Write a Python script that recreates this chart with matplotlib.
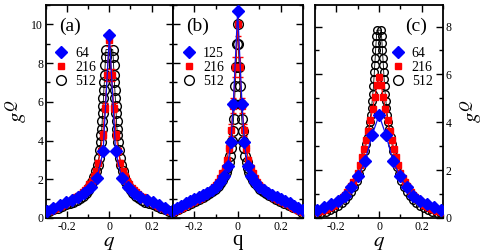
import numpy as np
import matplotlib
matplotlib.use("Agg")
import matplotlib.pyplot as plt
from matplotlib.lines import Line2D

plt.rcParams['font.family'] = ['Liberation Serif', 'DejaVu Serif']
plt.rcParams['mathtext.fontset'] = 'stix'

# ---- panel (a) : half curves, q >= 0 (data are symmetric in q) ----
a_blue_q = [0, 0.0295, 0.059, 0.0885, 0.118, 0.1475, 0.177, 0.2065, 0.236, 0.2655, 0.295]
a_blue_g = [9.45, 3.45, 2.05, 1.6, 1.3, 1.1, 0.93, 0.8, 0.66, 0.52, 0.38]

a_red_q = [0, 0.0105, 0.021, 0.0315, 0.042, 0.0525, 0.063, 0.0735, 0.084, 0.0945,
           0.105, 0.1155, 0.126, 0.1365, 0.147, 0.1575, 0.168, 0.1785, 0.189, 0.1995,
           0.21, 0.2205, 0.231, 0.2415, 0.252, 0.2625, 0.273, 0.2835, 0.294]
a_red_g = [9.2, 7.4, 5.7, 4.3, 3.45, 2.85, 2.45, 2.15, 1.92, 1.73,
           1.57, 1.44, 1.33, 1.23, 1.14, 1.06, 0.99, 0.92, 0.86, 0.8,
           0.74, 0.68, 0.63, 0.58, 0.53, 0.48, 0.43, 0.38, 0.34]
a_red_e = [0.3, 0.3, 0.25, 0.2, 0.15, 0.12, 0.1, 0.08, 0.07, 0.06,
           0.05, 0.05, 0.04, 0.04, 0.04, 0.03, 0.03, 0.03, 0.03, 0.03,
           0.03, 0.03, 0.02, 0.02, 0.02, 0.02, 0.02, 0.02, 0.02]

a_blk_q = [0.016, 0.018, 0.020, 0.022, 0.024, 0.026, 0.028, 0.030, 0.032, 0.034,
           0.036, 0.038, 0.041, 0.045, 0.050, 0.056, 0.063, 0.071, 0.080, 0.090,
           0.101, 0.113, 0.126, 0.140, 0.155, 0.171, 0.188, 0.206, 0.225, 0.245,
           0.265, 0.285, 0.300]
a_blk_g = [8.7, 8.3, 7.9, 7.4, 7.0, 6.6, 6.2, 5.8, 5.4, 5.0,
           4.6, 4.3, 3.9, 3.5, 3.1, 2.75, 2.42, 2.12, 1.86, 1.64,
           1.45, 1.29, 1.15, 1.02, 0.93, 0.85, 0.78, 0.70, 0.62, 0.54,
           0.46, 0.38, 0.33]

# ---- panel (b) ----
b_blue_q = [0, 0.02, 0.031, 0.046, 0.062, 0.08, 0.1, 0.12, 0.14, 0.16, 0.18, 0.2,
            0.22, 0.24, 0.26, 0.28, 0.3]
b_blue_g = [10.7, 5.9, 3.9, 2.7, 2.15, 1.85, 1.62, 1.45, 1.31, 1.19, 1.07, 0.96,
            0.86, 0.75, 0.64, 0.52, 0.4]

b_red_q = [0, 0.01, 0.02, 0.03, 0.04, 0.05, 0.06, 0.07, 0.08, 0.09, 0.1,
           0.11, 0.12, 0.13, 0.14, 0.15, 0.16, 0.17, 0.18, 0.19, 0.2,
           0.21, 0.22, 0.23, 0.24, 0.25, 0.26, 0.27, 0.28, 0.29, 0.3]
b_red_g = [10.0, 7.8, 5.8, 4.55, 3.6, 3.0, 2.6, 2.3, 2.07, 1.88, 1.72,
           1.58, 1.46, 1.36, 1.27, 1.19, 1.12, 1.05, 0.99, 0.93, 0.87,
           0.81, 0.76, 0.7, 0.65, 0.59, 0.54, 0.48, 0.43, 0.37, 0.32]
b_red_e = [0.6, 0.5, 0.4, 0.3, 0.2, 0.15, 0.12, 0.1, 0.08, 0.07, 0.06,
           0.05, 0.05, 0.04, 0.04, 0.04, 0.03, 0.03, 0.03, 0.03, 0.03,
           0.03, 0.02, 0.02, 0.02, 0.02, 0.02, 0.02, 0.02, 0.02, 0.02]

b_blk_q = [0.0, 0.003, 0.007, 0.011, 0.015, 0.019, 0.023, 0.027, 0.031, 0.036,
           0.041, 0.047, 0.054, 0.062, 0.071, 0.081, 0.092, 0.104, 0.117, 0.131,
           0.146, 0.162, 0.179, 0.197, 0.216, 0.236, 0.256, 0.277, 0.298]
b_blk_g = [10.0, 9.0, 7.8, 6.8, 5.9, 5.1, 4.5, 4.0, 3.6, 3.2,
           2.9, 2.6, 2.35, 2.15, 1.97, 1.8, 1.65, 1.52, 1.4, 1.28,
           1.17, 1.07, 0.97, 0.87, 0.77, 0.67, 0.56, 0.45, 0.33]

# ---- panel (c) ----
c_blue_q = [0, 0.033, 0.065, 0.097, 0.129, 0.161, 0.193, 0.225, 0.257, 0.289]
c_blue_g = [4.3, 3.45, 2.4, 1.75, 1.3, 0.92, 0.72, 0.57, 0.45, 0.35]

c_red_q = [0, 0.01, 0.02, 0.03, 0.04, 0.05, 0.06, 0.07, 0.08, 0.09, 0.1,
           0.11, 0.12, 0.13, 0.14, 0.15, 0.16, 0.17, 0.18, 0.19, 0.2,
           0.21, 0.22, 0.23, 0.24, 0.25, 0.26, 0.27, 0.28, 0.29, 0.3]
c_red_g = [5.9, 5.55, 5.05, 4.55, 4.1, 3.65, 3.25, 2.9, 2.55, 2.2, 1.9,
           1.68, 1.5, 1.34, 1.2, 1.08, 0.97, 0.87, 0.78, 0.7, 0.62,
           0.56, 0.5, 0.45, 0.41, 0.37, 0.34, 0.31, 0.28, 0.26, 0.24]

c_blk_q = [0.010, 0.012, 0.014, 0.016, 0.018, 0.020, 0.022, 0.024, 0.026, 0.029,
           0.032, 0.035, 0.039, 0.043, 0.048, 0.054, 0.060, 0.067, 0.075, 0.084,
           0.094, 0.105, 0.117, 0.130, 0.144, 0.159, 0.175, 0.192, 0.210, 0.229,
           0.249, 0.270, 0.292]
c_blk_g = [7.85, 7.6, 7.3, 7.0, 6.7, 6.4, 6.1, 5.8, 5.5, 5.2,
           4.9, 4.6, 4.3, 4.0, 3.7, 3.4, 3.1, 2.8, 2.5, 2.15,
           1.85, 1.55, 1.3, 1.08, 0.9, 0.75, 0.62, 0.5, 0.41, 0.33,
           0.26, 0.2, 0.15]

labels_a = ["64", "216", "512"]
labels_b = ["125", "216", "512"]
labels_c = ["64", "216", "512"]


def sym(q, g, e=None):
    # values read for q >= 0; the curves are mirrored to q < 0
    q = np.asarray(q, float)
    g = np.asarray(g, float)
    k = 1 if q[0] == 0 else 0   # don't duplicate the q = 0 point
    qq = np.concatenate([-q[k:][::-1], q])
    gg = np.concatenate([g[k:][::-1], g])
    ee = None
    if e is not None:
        e = np.asarray(e, float)
        ee = np.concatenate([e[k:][::-1], e])
    return qq, gg, ee


BLK = dict(marker='o', ms=7, mfc='none', mec='black', mew=1.0)
RED = dict(marker='s', ms=5, mfc='red', mec='red')
BLU = dict(marker='D', ms=6, mfc='blue', mec='blue')


def panel(ax, blk, red, blue, ms_blk=7):
    q, g, _ = sym(*blk)
    ax.plot(q, g, color='black', lw=0.6, zorder=2, **{**BLK, 'ms': ms_blk})
    q, g, e = sym(*red)
    ax.errorbar(q, g, yerr=e, color='red', lw=0.8, ecolor='red', elinewidth=0.8,
                capsize=2.5, zorder=3, **RED)
    q, g, _ = sym(*blue)
    ax.plot(q, g, color='#1010ee', lw=0.9, zorder=4, **BLU)
    ax.set_xlim(-0.3, 0.3)
    ax.set_xticks([-0.2, 0, 0.2])
    ax.set_xticks([-0.3, -0.1, 0.1, 0.3], minor=True)
    ax.set_xticklabels(["-0.2", "0", "0.2"])
    ax.tick_params(which='both', direction='in', top=True, right=True,
                   labelsize=8.5, pad=2)
    ax.tick_params(which='major', length=5, width=1.0)
    ax.tick_params(which='minor', length=3, width=1.0)
    for s in ax.spines.values():
        s.set_linewidth(1.3)


fig = plt.figure(figsize=(4.85, 2.52), dpi=100)
bot, h = 0.135, 0.845
ax_a = fig.add_axes([0.095, bot, 0.261, h])
ax_b = fig.add_axes([0.356, bot, 0.268, h])
ax_c = fig.add_axes([0.6495, bot, 0.264, h])

panel(ax_a, (a_blk_q, a_blk_g), (a_red_q, a_red_g, a_red_e), (a_blue_q, a_blue_g))
panel(ax_b, (b_blk_q, b_blk_g), (b_red_q, b_red_g, b_red_e), (b_blue_q, b_blue_g))
panel(ax_c, (c_blk_q, c_blk_g), (c_red_q, c_red_g, None), (c_blue_q, c_blue_g), ms_blk=5.5)

for ax in (ax_a, ax_b):
    ax.set_ylim(0, 11)
    ax.set_yticks([0, 2, 4, 6, 8, 10])
    ax.set_yticks([1, 3, 5, 7, 9, 11], minor=True)
ax_b.set_yticklabels([])

ax_c.set_ylim(0, 8.9)
ax_c.set_yticks([0, 2, 4, 6, 8])
ax_c.set_yticks([1, 3, 5, 7], minor=True)
ax_c.yaxis.tick_right()
ax_c.tick_params(which='both', left=True, right=True, labelleft=False, labelright=True)
ax_c.yaxis.set_label_position('right')

ax_a.set_ylabel(r'$g^Q$', fontsize=15, rotation=90, labelpad=1)
ax_c.set_ylabel(r'$g^Q$', fontsize=15, rotation=90, labelpad=5)
ax_a.set_xlabel(r'$q$', fontsize=15, labelpad=0)
ax_b.set_xlabel('q', fontsize=15, labelpad=-1)
ax_c.set_xlabel(r'$q$', fontsize=15, labelpad=0)

ax_a.text(0.1, 0.88, '(a)', transform=ax_a.transAxes, fontsize=14)
ax_b.text(0.1, 0.88, '(b)', transform=ax_b.transAxes, fontsize=14)
ax_c.text(0.7, 0.88, '(c)', transform=ax_c.transAxes, fontsize=14)

hd = [Line2D([], [], ls='none', **BLU),
      Line2D([], [], ls='none', **RED),
      Line2D([], [], ls='none', **BLK)]
for ax, x0, labs in ((ax_a, 0.02, labels_a), (ax_b, 0.03, labels_b), (ax_c, 0.55, labels_c)):
    ax.legend(hd, labs, loc='upper left', bbox_to_anchor=(x0, 0.835), frameon=False,
              fontsize=10, handlelength=0.8, handletextpad=0.6,
              labelspacing=0.08, borderpad=0, numpoints=1)

fig.savefig('out.png', dpi=100)
